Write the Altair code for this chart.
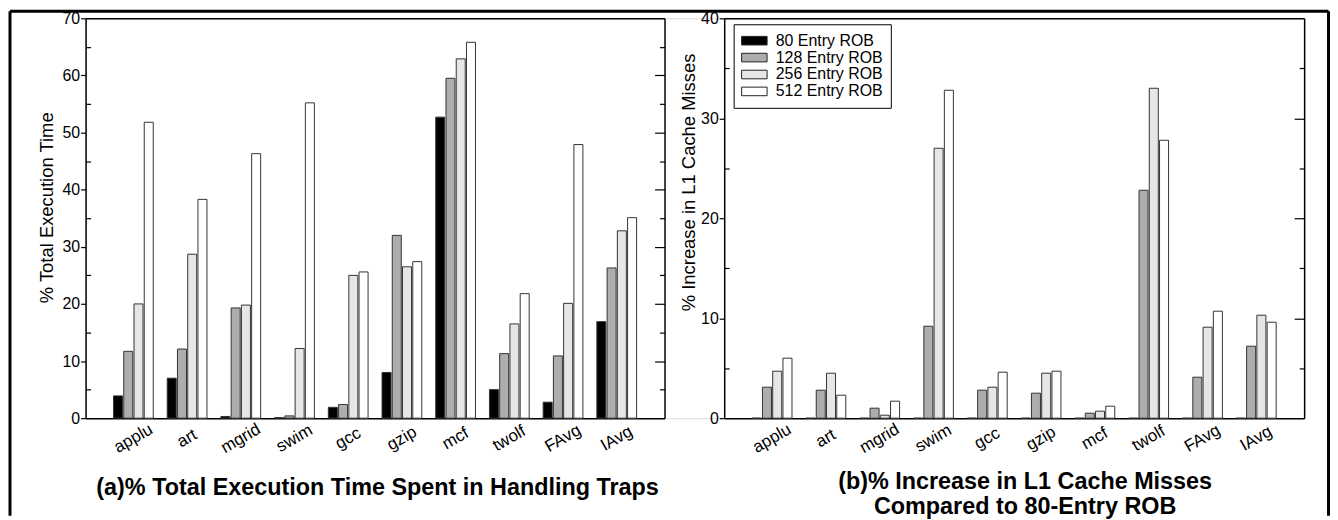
import altair as alt
import pandas as pd

benchmarks = ["applu", "art", "mgrid", "swim", "gcc", "gzip", "mcf", "twolf", "FAvg", "IAvg"]
rob_sizes = ["80 Entry ROB", "128 Entry ROB", "256 Entry ROB", "512 Entry ROB"]

# (a) % total execution time spent in handling traps
trap_80 = [3.9, 7.0, 0.3, 0.1, 1.9, 8.0, 52.7, 5.0, 2.8, 16.9]
trap_128 = [11.7, 12.1, 19.3, 0.4, 2.4, 32.0, 59.5, 11.3, 10.9, 26.3]
trap_256 = [20.0, 28.7, 19.8, 12.2, 25.0, 26.5, 62.9, 16.5, 20.1, 32.8]
trap_512 = [51.8, 38.3, 46.3, 55.2, 25.6, 27.4, 65.8, 21.8, 47.9, 35.1]

# (b) % increase in L1 cache misses compared to 80-entry ROB
miss_80 = [0, 0, 0, 0, 0, 0, 0, 0, 0, 0]
miss_128 = [3.1, 2.8, 1.0, 9.2, 2.8, 2.5, 0.5, 22.8, 4.1, 7.2]
miss_256 = [4.7, 4.5, 0.3, 27.0, 3.1, 4.5, 0.7, 33.0, 9.1, 10.3]
miss_512 = [6.0, 2.3, 1.7, 32.8, 4.6, 4.7, 1.2, 27.8, 10.7, 9.6]

y_ticks_a = [0, 10, 20, 30, 40, 50, 60, 70]
y_ticks_b = [0, 10, 20, 30, 40]

colors = ["#000000", "#adadad", "#e6e6e6", "#ffffff"]
FONT = "Liberation Sans"


def long_table(series):
    rows = []
    for rob, vals in zip(rob_sizes, series):
        for b, v in zip(benchmarks, vals):
            rows.append({"bench": b, "rob": rob, "value": v})
    return pd.DataFrame(rows)


df_a = long_table([trap_80, trap_128, trap_256, trap_512])
df_b = long_table([miss_80, miss_128, miss_256, miss_512])

W, H = 1225, 402
RANGE_A = [0, 582]
RANGE_B = [642, 1225]
YMAX_A, YMAX_B = 70, 40

legend = alt.Legend(
    title=None, orient="none", legendX=651.5, legendY=6, direction="vertical",
    symbolType="M-1.6,-0.54L1.6,-0.54L1.6,0.54L-1.6,0.54Z", symbolSize=256,
    symbolOffset=4.3, symbolStrokeColor="#222222", symbolStrokeWidth=1,
    labelFont=FONT, labelFontSize=16, labelColor="black", labelOffset=13,
    strokeColor="black", fillColor="white", padding=8, rowPadding=0,
)


def minor_vals(ymax):
    return [v for v in range(5, ymax, 10)]


def all_vals(ymax):
    return [v for v in range(5, ymax, 5)]


def panel(df, xrange, ymax, yticks, ytitle, xtitle, title_x, title_y, ytitle_y, ytitle_pad, left_pos):
    xscale = alt.Scale(range=xrange, paddingInner=0.26, paddingOuter=0.52)
    yscale = alt.Scale(domain=[0, ymax], nice=False)
    bars = alt.Chart(df).mark_bar(stroke="#333333", strokeWidth=1).encode(
        x=alt.X("bench:N", sort=benchmarks, scale=xscale,
                axis=alt.Axis(orient="bottom", title=xtitle, titleFont=FONT, titleFontSize=23.5,
                              titleFontWeight="bold", titleColor="black", titleX=title_x, titleY=title_y,
                              titleBaseline="alphabetic", titleLineHeight=25, titleAlign="center",
                              labelAngle=-30, labelAlign="center", labelBaseline="middle",
                              labelPadding=20, labelFont=FONT, labelFontSize=17, labelColor="black",
                              ticks=False, domainColor="black", domainWidth=1.5, grid=False)),
        xOffset=alt.XOffset("rob:N", sort=rob_sizes, scale=alt.Scale(paddingInner=0.12)),
        y=alt.Y("value:Q", scale=yscale,
                axis=alt.Axis(orient="left", values=yticks, offset=-left_pos, tickSize=5,
                              tickColor="black", tickWidth=1.2, labelPadding=1, labelFont=FONT,
                              labelFontSize=16, labelColor="black", domainColor="black",
                              domainWidth=1.5, grid=False, title=ytitle, titleFont=FONT,
                              titleFontSize=18.5, titleFontWeight="normal", titleColor="black",
                              titlePadding=ytitle_pad, titleY=ytitle_y)),
        fill=alt.Fill("rob:N", sort=rob_sizes,
                      scale=alt.Scale(domain=rob_sizes, range=colors), legend=legend),
    )
    # top border and right border with inward ticks
    frame = alt.Chart(df).mark_point(opacity=0).encode(
        x=alt.X("bench:N", sort=benchmarks, scale=xscale,
                axis=alt.Axis(orient="top", labels=False, ticks=False, title=None,
                              domainColor="black", domainWidth=1.5, grid=False)),
        y=alt.Y("value:Q", scale=yscale,
                axis=alt.Axis(orient="left", offset=-xrange[1], values=all_vals(ymax), labels=False,
                              title=None, grid=False, domainColor="black", domainWidth=1.5,
                              tickColor="black", tickWidth=1.2,
                              tickSize={"condition": {"test": "datum.value % 10 === 0", "value": 10},
                                        "value": 5})),
    )
    # inward minor ticks on the left axis
    minor = alt.Chart(df).mark_point(opacity=0).encode(
        y=alt.Y("value:Q", scale=yscale,
                axis=alt.Axis(orient="right", offset=-(W - left_pos), values=minor_vals(ymax),
                              labels=False, title=None, grid=False, domain=False,
                              tickColor="black", tickWidth=1.2, tickSize=5)),
    )
    return [bars, frame, minor]


layers_a = panel(df_a, RANGE_A, YMAX_A, y_ticks_a, "% Total Execution Time",
                 "(a)% Total Execution Time Spent in Handling Traps", 293, 76.5, 190, 5, 0)
layers_b = panel(df_b, RANGE_B, YMAX_B, y_ticks_b, "% Increase in L1 Cache Misses",
                 ["(b)% Increase in L1 Cache Misses", "Compared to 80-Entry ROB"], 944, 70.5, 164.5, 2, 642)

dummy = pd.DataFrame({"k": [0]})
border_left = alt.Chart(dummy).mark_rule(color="black", strokeWidth=3).encode(
    x=alt.value(-76), y=alt.value(-7), y2=alt.value(500))
border_right = alt.Chart(dummy).mark_rule(color="black", strokeWidth=3).encode(
    x=alt.value(1249.5), y=alt.value(-7), y2=alt.value(500))
border_top = alt.Chart(dummy).mark_rule(color="black", strokeWidth=3).encode(
    x=alt.value(-76), x2=alt.value(1249.5), y=alt.value(-7))

chart = alt.layer(*layers_a, *layers_b, border_left, border_right, border_top).resolve_scale(
    x="independent", y="independent", xOffset="independent"
).properties(
    width=W, height=H, padding=0
).configure_view(stroke=None).configure(font=FONT)

chart.save("out.html", embed_options={"renderer": "svg", "actions": False})
